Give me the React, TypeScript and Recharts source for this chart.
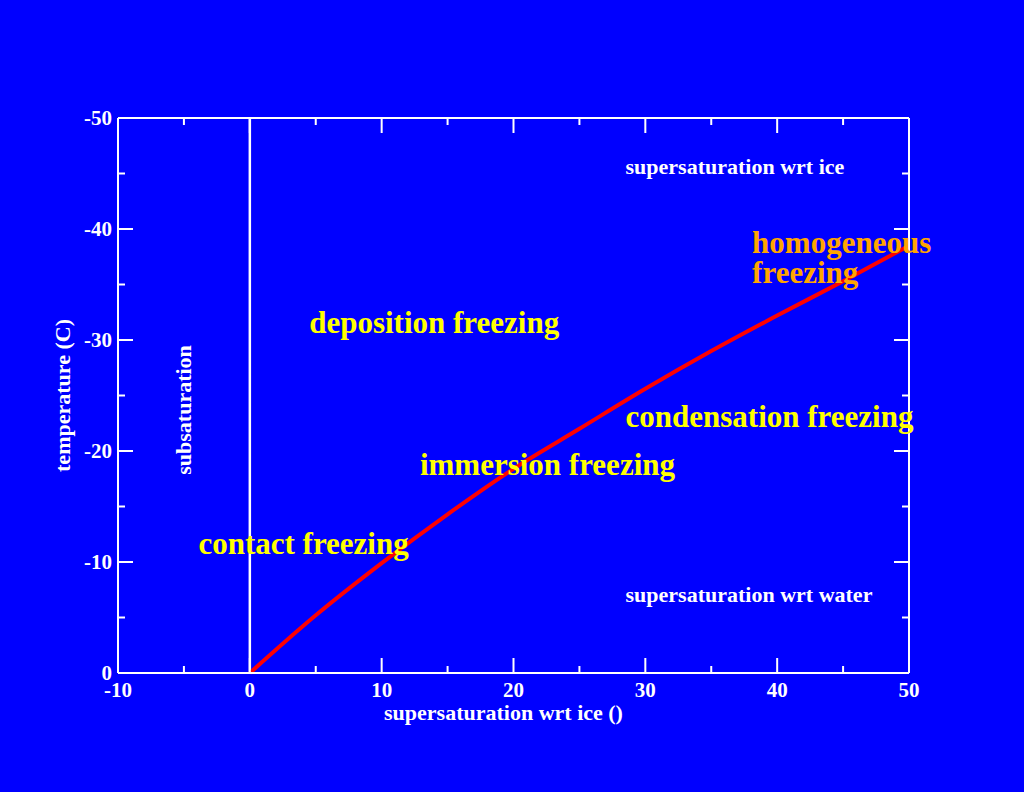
import {
  LineChart,
  Line,
  XAxis,
  YAxis,
  ReferenceLine,
  ReferenceDot,
  Label,
} from 'recharts'

// supersaturation wrt ice (%) vs temperature (C) of the water saturation curve
const supersat = [0, 5, 10, 15, 20, 25, 30, 35, 40, 45, 50]
const temperature = [0, -5.2, -9.9, -14.3, -18.4, -22.0, -25.6, -29.0, -32.2, -35.3, -38.5]

const xTicks = [-10, -5, 0, 5, 10, 15, 20, 25, 30, 35, 40, 45, 50]
const yTicks = [0, -5, -10, -15, -20, -25, -30, -35, -40, -45, -50]

const regionNames = [
  'deposition freezing',
  'contact freezing',
  'immersion freezing',
  'condensation freezing',
]

const data = supersat.map((s, i) => ({ s, t: temperature[i] }))

const BG = '#0000ff'
const WHITE = '#ffffff'
const YELLOW = '#ffff00'
const ORANGE = '#ffa500'
const RED = '#ff0000'
const FONT = '"Liberation Serif", "Times New Roman", serif'

const MAJOR = 15
const MINOR = 7

// where each annotation sits, in data units (left edge / baseline)
const regionSpots = [
  { x: 4.5, y: -30.6 },
  { x: -3.9, y: -10.7 },
  { x: 12.9, y: -17.8 },
  { x: 28.5, y: -22.2 },
]

function textProps(color: string, size: number) {
  return { fill: color, fontSize: size, fontFamily: FONT, fontWeight: 'bold' as const }
}

function BottomTick(props: any) {
  const { x, y, payload } = props
  const major = payload.value % 10 === 0
  return (
    <g>
      <line x1={x} x2={x} y1={y} y2={y - (major ? MAJOR : MINOR)} stroke={WHITE} strokeWidth={2} />
      {major && (
        <text x={x} y={y + 24} textAnchor="middle" {...textProps(WHITE, 21)}>
          {payload.value}
        </text>
      )}
    </g>
  )
}

function TopTick(props: any) {
  const { x, y, payload } = props
  const major = payload.value % 10 === 0
  return <line x1={x} x2={x} y1={y} y2={y + (major ? MAJOR : MINOR)} stroke={WHITE} strokeWidth={2} />
}

function LeftTick(props: any) {
  const { x, y, payload } = props
  const major = payload.value % 10 === 0
  return (
    <g>
      <line x1={x} x2={x + (major ? MAJOR : MINOR)} y1={y} y2={y} stroke={WHITE} strokeWidth={2} />
      {major && (
        <text x={x - 6} y={y + 7} textAnchor="end" {...textProps(WHITE, 21)}>
          {payload.value}
        </text>
      )}
    </g>
  )
}

function RightTick(props: any) {
  const { x, y, payload } = props
  const major = payload.value % 10 === 0
  return <line x1={x} x2={x - (major ? MAJOR : MINOR)} y1={y} y2={y} stroke={WHITE} strokeWidth={2} />
}

function plainLabel(text: string, color: string, size: number) {
  return (props: any) => {
    const vb = props.viewBox
    return (
      <text x={vb.x} y={vb.y} {...textProps(color, size)}>
        {text}
      </text>
    )
  }
}

export default function App() {
  const axisLine = { stroke: WHITE, strokeWidth: 2 }
  return (
    <div style={{ position: 'absolute', left: 0, top: 0, width: 1024, height: 792, background: BG }}>
      <LineChart width={1024} height={792} data={data} margin={{ top: 98, right: 95, bottom: 69, left: 58 }}>
        <XAxis
          dataKey="s"
          type="number"
          domain={[-10, 50]}
          ticks={xTicks}
          interval={0}
          tickSize={0}
          tickMargin={0}
          height={50}
          axisLine={axisLine}
          tick={<BottomTick />}
        >
          <Label
            content={(props: any) => {
              const vb = props.viewBox
              return (
                <text x={vb.x + vb.width / 2 - 10} y={vb.y + 47} textAnchor="middle" {...textProps(WHITE, 22)}>
                  supersaturation wrt ice ()
                </text>
              )
            }}
          />
        </XAxis>
        <XAxis
          xAxisId="top"
          orientation="top"
          dataKey="s"
          type="number"
          domain={[-10, 50]}
          ticks={xTicks}
          interval={0}
          tickSize={0}
          tickMargin={0}
          height={20}
          axisLine={axisLine}
          tick={<TopTick />}
        />
        <YAxis
          type="number"
          domain={[-50, 0]}
          reversed
          ticks={yTicks}
          interval={0}
          tickSize={0}
          tickMargin={0}
          width={60}
          axisLine={axisLine}
          tick={<LeftTick />}
        >
          <Label
            content={(props: any) => {
              const vb = props.viewBox
              const cx = vb.x + 12
              const cy = vb.y + vb.height / 2
              return (
                <text
                  x={cx}
                  y={cy}
                  textAnchor="middle"
                  transform={`rotate(-90 ${cx} ${cy})`}
                  {...textProps(WHITE, 22)}
                >
                  temperature (C)
                </text>
              )
            }}
          />
        </YAxis>
        <YAxis
          yAxisId="right"
          orientation="right"
          dataKey="t"
          type="number"
          domain={[-50, 0]}
          reversed
          ticks={yTicks}
          interval={0}
          tickSize={0}
          tickMargin={0}
          width={20}
          axisLine={axisLine}
          tick={<RightTick />}
        />
        <ReferenceLine x={0} stroke={WHITE} strokeWidth={2.5} />
        <Line
          type="monotone"
          dataKey="t"
          stroke={RED}
          strokeWidth={4}
          dot={false}
          isAnimationActive={false}
        />
        {regionNames.map((name, i) => (
          <ReferenceDot
            key={name}
            x={regionSpots[i].x}
            y={regionSpots[i].y}
            r={0}
            fill="none"
            stroke="none"
            label={{ content: plainLabel(name, YELLOW, 31) }}
          />
        ))}
        <ReferenceDot
          x={38.1}
          y={-37.8}
          r={0}
          fill="none"
          stroke="none"
          label={{
            content: (props: any) => {
              const vb = props.viewBox
              return (
                <text x={vb.x} y={vb.y} {...textProps(ORANGE, 31)}>
                  <tspan x={vb.x}>homogeneous</tspan>
                  <tspan x={vb.x} dy={30}>freezing</tspan>
                </text>
              )
            },
          }}
        />
        <ReferenceDot
          x={28.5}
          y={-45}
          r={0}
          fill="none"
          stroke="none"
          label={{ content: plainLabel('supersaturation wrt ice', WHITE, 22) }}
        />
        <ReferenceDot
          x={28.5}
          y={-6.4}
          r={0}
          fill="none"
          stroke="none"
          label={{ content: plainLabel('supersaturation wrt water', WHITE, 22) }}
        />
        <ReferenceDot
          x={-4.5}
          y={-23.7}
          r={0}
          fill="none"
          stroke="none"
          label={{
            content: (props: any) => {
              const vb = props.viewBox
              return (
                <text
                  x={vb.x}
                  y={vb.y}
                  textAnchor="middle"
                  transform={`rotate(-90 ${vb.x} ${vb.y})`}
                  {...textProps(WHITE, 22)}
                >
                  subsaturation
                </text>
              )
            },
          }}
        />
      </LineChart>
    </div>
  )
}
